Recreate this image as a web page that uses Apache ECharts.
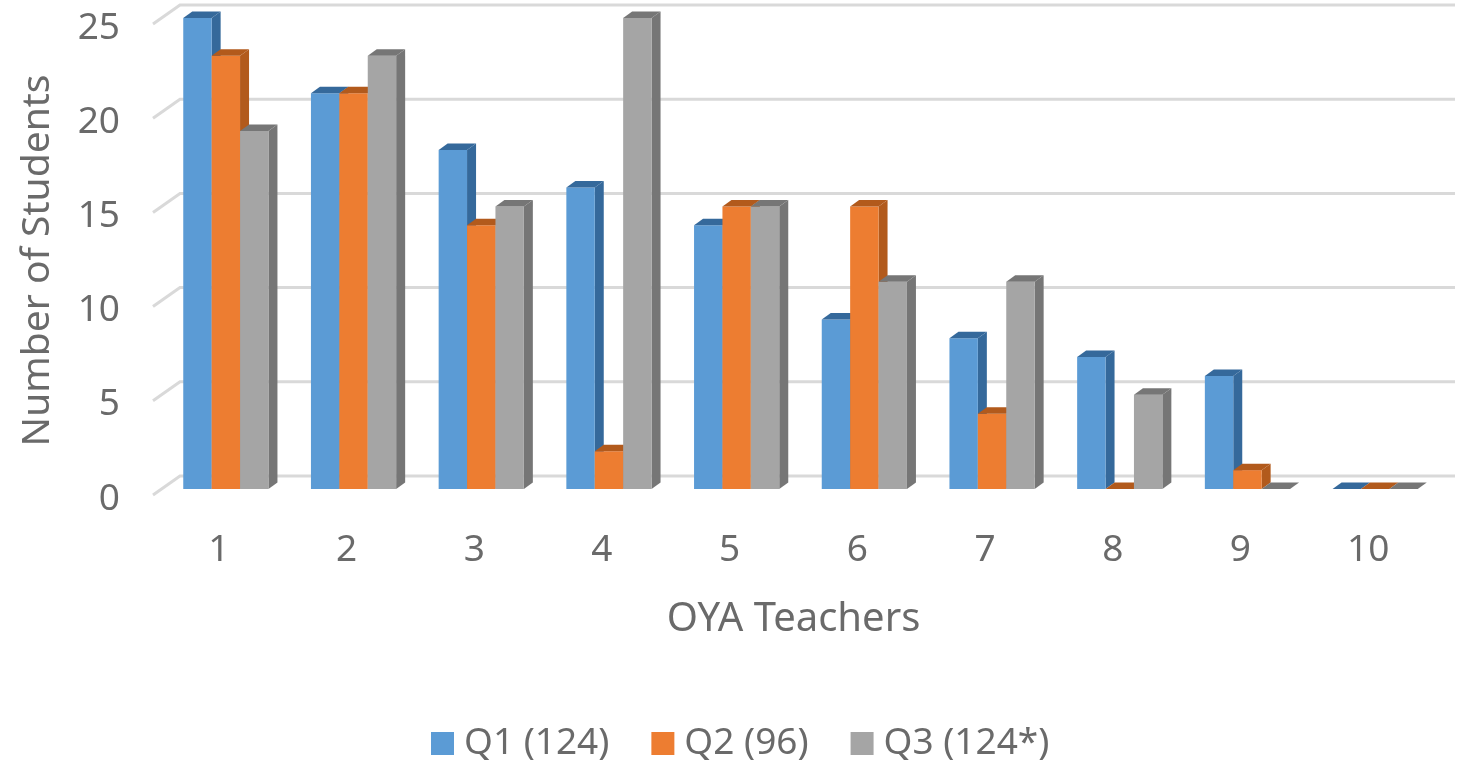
<!DOCTYPE html>
<html lang="en">
<head>
    <meta charset="UTF-8">
    <title>OYA Teachers</title>
    <script src="https://cdn.jsdelivr.net/npm/echarts@6/dist/echarts.min.js"></script>
    <style>
        html, body { margin: 0; background: #fff; }
        #chart1 { width: 1461px; height: 764px; }
    </style>
</head>
<body>
<div id="chart1"></div>
<script>
    var teachers = ['1', '2', '3', '4', '5', '6', '7', '8', '9', '10'];
    var q1 = [25, 21, 18, 16, 14, 9, 8, 7, 6, 0];
    var q2 = [23, 21, 14, 2, 15, 15, 4, 0, 1, 0];
    var q3 = [19, 23, 15, 25, 15, 11, 11, 5, 0, 0];
    var yTicks = [0, 5, 10, 15, 20, 25];

    var textColor = '#6a6a6a';
    var fontName = '"Noto Sans"';
    var barW = 28.4, depthX = 9, depthY = 6.5, groupShift = 7;

    // flat grid: the back wall sits up and right of the value position
    function renderGrid(params, api) {
        var y = api.coord([0, api.value(0)])[1];
        var sys = params.coordSys;
        return {
            type: 'polyline',
            shape: { points: [[sys.x - 2, y + 6], [sys.x + 25, y - 13], [sys.x + sys.width + 23, y - 13]] },
            style: { fill: null, stroke: '#d9d9d9', lineWidth: 3 }
        };
    }

    // one 3d looking bar: side, top, then the front
    function barRenderer(index, front, dark) {
        return function (params, api) {
            var p = api.coord([api.value(0), api.value(1)]);
            var base = api.coord([api.value(0), 0])[1];
            var x = p[0] + groupShift - barW * 1.5 + index * barW;
            var y = p[1];
            var kids = [];
            if (base - y > 0) {
                kids.push({
                    type: 'polygon',
                    shape: { points: [[x + barW, y], [x + barW + depthX, y - depthY], [x + barW + depthX, base - depthY], [x + barW, base]] },
                    style: { fill: dark }
                });
                kids.push({
                    type: 'rect',
                    shape: { x: x, y: y, width: barW, height: base - y },
                    style: { fill: front }
                });
            }
            kids.push({
                type: 'polygon',
                shape: { points: [[x, y], [x + depthX, y - depthY], [x + barW + depthX, y - depthY], [x + barW, y]] },
                style: { fill: dark }
            });
            return { type: 'group', children: kids };
        };
    }

    function barSeries(name, values, index, front, dark) {
        return {
            name: name,
            type: 'custom',
            renderItem: barRenderer(index, front, dark),
            encode: { x: 0, y: 1 },
            itemStyle: { color: front },
            data: values.map(function (v, i) { return [i, v]; }),
            z: 3 + index
        };
    }

    var chart = echarts.init(document.getElementById('chart1'), null, { renderer: 'canvas' });

    var option = {
        animation: false,
        backgroundColor: '#fff',
        grid: { left: 155, top: 18, width: 1277, height: 471, outerBoundsMode: 'none' },
        legend: {
            data: ['Q1 (124)', 'Q2 (96)', 'Q3 (124*)'],
            left: 426,
            top: 720,
            icon: 'rect',
            itemWidth: 23,
            itemHeight: 23,
            itemGap: 42,
            textStyle: { color: textColor, fontFamily: fontName, fontSize: 37, padding: [0, 0, 0, 5] }
        },
        xAxis: {
            type: 'category',
            data: teachers,
            name: 'OYA Teachers',
            nameLocation: 'middle',
            nameGap: 111,
            nameTextStyle: { color: textColor, fontFamily: fontName, fontSize: 40 },
            axisLine: { show: false },
            axisTick: { show: false },
            axisLabel: { color: textColor, fontFamily: fontName, fontSize: 37, margin: 43 }
        },
        yAxis: {
            type: 'value',
            min: 0,
            max: 25,
            interval: 5,
            name: 'Number of Students',
            nameLocation: 'middle',
            nameGap: 98,
            nameTextStyle: { color: textColor, fontFamily: fontName, fontSize: 39, padding: [0, 14, 0, 0] },
            axisLine: { show: false },
            axisTick: { show: false },
            splitLine: { show: false },
            axisLabel: { color: textColor, fontFamily: fontName, fontSize: 37, margin: 35, verticalAlign: 'top', lineHeight: 20 }
        },
        series: [
            {
                name: 'grid',
                type: 'custom',
                renderItem: renderGrid,
                encode: { y: 0 },
                data: yTicks.map(function (v) { return [v]; }),
                silent: true,
                z: 1
            },
            barSeries('Q1 (124)', q1, 0, '#5b9bd5', '#35699b'),
            barSeries('Q2 (96)', q2, 1, '#ed7d31', '#b25a1c'),
            barSeries('Q3 (124*)', q3, 2, '#a5a5a5', '#767676')
        ]
    };
    chart.setOption(option);
</script>
</body>
</html>
